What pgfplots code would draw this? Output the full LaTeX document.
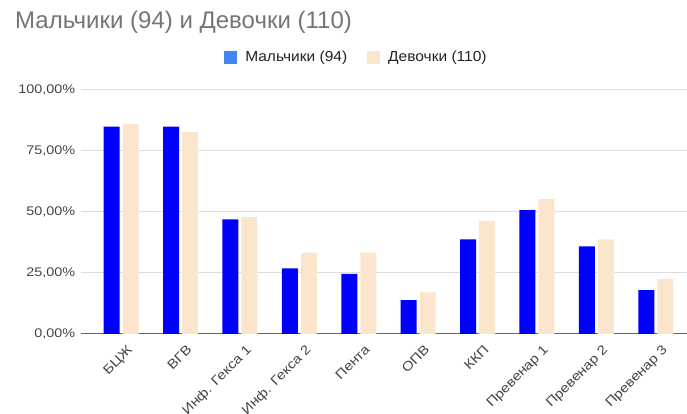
\documentclass[border=0pt]{standalone}
\usepackage{pgfplots}
\pgfplotsset{compat=1.18}
\usepackage{fontspec}
\setmainfont{Liberation Sans}
\newfontfamily\widefont[FakeStretch=1.15]{Liberation Sans}
\newfontfamily\legfont[FakeStretch=1.07]{Liberation Sans}
\definecolor{boys}{HTML}{0000FF}
\definecolor{boyslegend}{HTML}{4285F4}
\definecolor{girls}{HTML}{FCE5CD}
\definecolor{titlegray}{HTML}{757575}
\definecolor{ticktext}{HTML}{444444}
\definecolor{legtext}{HTML}{222222}
\definecolor{gridc}{HTML}{DDDDDD}
\begin{document}
\begin{tikzpicture}[x=1pt,y=1pt]
\useasboundingbox (0,0) rectangle (687,414);
\node[anchor=base west, text=titlegray, font=\fontsize{24}{24}\selectfont, inner sep=0pt] at (15,385) {Мальчики (94) и Девочки (110)};
\begin{axis}[
  at={(80.7pt,80pt)}, anchor=south west,
  scale only axis, width=606pt, height=244pt,
  ybar=3pt, bar width=16pt,
  xmin=-0.68, xmax=9.52,
  ymin=0, ymax=100,
  ytick={0,25,50,75,100},
  yticklabels={0{,}00\%,25{,}00\%,50{,}00\%,75{,}00\%,100{,}00\%},
  xtick={0,...,9},
  xticklabels={БЦЖ,ВГВ,Инф. Гекса 1,Инф. Гекса 2,Пента,ОПВ,ККП,Превенар 1,Превенар 2,Превенар 3},
  x tick label style={xshift=5.5pt, yshift=-8.5pt, rotate=45, anchor=north east, inner sep=1pt, font=\widefont\fontsize{13}{13}\selectfont, text=ticktext},
  y tick label style={font=\widefont\fontsize{12.5}{12.5}\selectfont, text=ticktext, xshift=-2pt},
  /pgf/number format/assume math mode=true,
  ymajorgrids, grid style={gridc, line width=1pt},
  major tick length=0pt,
  axis x line*=bottom, axis y line*=left,
  y axis line style={draw=none},
  x axis line style={draw=gray!80!black, line width=1pt, -},
  legend style={at={(0.455,1.135)}, anchor=center, draw=none, fill=none, legend columns=2,
    font=\legfont\fontsize{14.5}{14.5}\selectfont, text=legtext,
    /tikz/every odd column/.append style={column sep=0pt},
    /tikz/every even column/.append style={column sep=18pt}},
  legend cell align=left,
]
\addplot[fill=boys, draw=none, legend image code/.code={\fill[boyslegend] (0pt,-6.5pt) rectangle (13pt,6.5pt);}] coordinates {
(0,85.0) (1,85.0) (2,47.0) (3,26.9) (4,24.6) (5,13.9) (6,38.8) (7,50.8) (8,35.9) (9,18.0)};
\addplot[fill=girls, draw=none, legend image code/.code={\fill[girls] (0pt,-6.5pt) rectangle (13pt,6.5pt);}] coordinates {
(0,86.1) (1,82.7) (2,48.0) (3,33.3) (4,33.3) (5,17.1) (6,46.3) (7,55.3) (8,38.8) (9,22.5)};
\legend{\hspace{6pt}Мальчики (94), \hspace{6pt}Девочки (110)}
\end{axis}
\end{tikzpicture}
\end{document}
